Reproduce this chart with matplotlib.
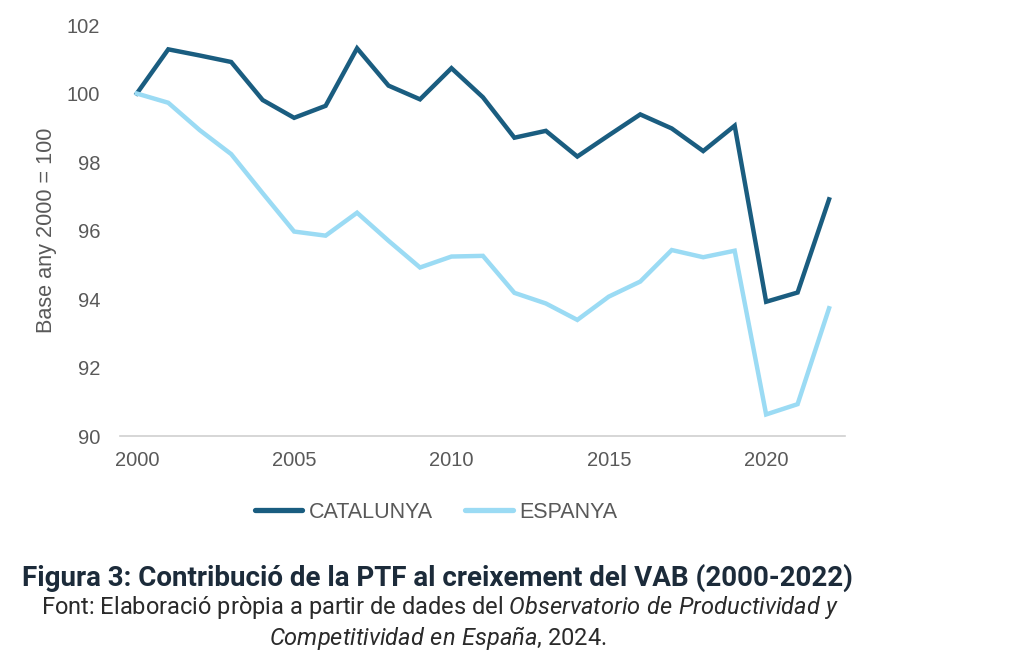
import numpy as np
import matplotlib
matplotlib.use('Agg')
import matplotlib.pyplot as plt
from matplotlib.lines import Line2D

plt.rcParams['font.family'] = ['Liberation Sans', 'DejaVu Sans']
plt.rcParams['mathtext.fontset'] = 'custom'
plt.rcParams['mathtext.rm'] = 'Roboto'
plt.rcParams['mathtext.it'] = 'Roboto:italic'

anys = list(range(2000, 2023))
catalunya = [100.0, 101.29, 101.11, 100.92, 99.81, 99.29, 99.64, 101.32, 100.23, 99.83,
             100.74, 99.89, 98.71, 98.91, 98.16, 98.78, 99.39, 98.98, 98.32, 99.06,
             93.92, 94.19, 96.91]
espanya = [100.0, 99.73, 98.93, 98.23, 97.09, 95.97, 95.85, 96.52, 95.70, 94.92,
           95.24, 95.26, 94.18, 93.87, 93.39, 94.07, 94.51, 95.43, 95.22, 95.41,
           90.63, 90.93, 93.73]
xticks = [2000, 2005, 2010, 2015, 2020]
yticks = [90, 92, 94, 96, 98, 100, 102]

col_cat = '#1a5d80'
col_esp = '#9bdbf4'
gris = '#595959'

fig = plt.figure(figsize=(10.24, 6.67), dpi=100)
fig.patch.set_facecolor('white')
ax = fig.add_axes([0.117, 0.3463, 0.708, 0.6162])

ax.plot(anys, catalunya, color=col_cat, linewidth=3.2, solid_joinstyle='miter', label='CATALUNYA')
ax.plot(anys, espanya, color=col_esp, linewidth=3.2, solid_joinstyle='miter', label='ESPANYA')

ax.set_xlim(1999.46, 2022.5)
ax.set_ylim(90, 102)
ax.set_xticks(xticks)
ax.set_yticks(yticks)
ax.tick_params(axis='both', length=0, labelsize=14.5, labelcolor=gris)
ax.tick_params(axis='x', pad=11)
ax.tick_params(axis='y', pad=14)
for s in ['top', 'right', 'left']:
    ax.spines[s].set_visible(False)
ax.spines['bottom'].set_color('#d0d0d0')
ax.spines['bottom'].set_linewidth(1.2)
ax.set_ylabel('Base any 2000 = 100', fontsize=15.6, color=gris)
ax.yaxis.set_label_coords(-0.086, 0.5)

handles = [Line2D([], [], color=col_cat, linewidth=3.8, solid_capstyle='round'),
           Line2D([], [], color=col_esp, linewidth=3.8, solid_capstyle='round')]
fig.legend(handles, ['CATALUNYA', 'ESPANYA'], loc='center', bbox_to_anchor=(0.426, 0.232),
           ncol=2, frameon=False, fontsize=15.5, handlelength=2.2, handletextpad=0.3,
           columnspacing=1.5, labelcolor=gris)

fig.text(0.427, 0.133, 'Figura 3: Contribució de la PTF al creixement del VAB (2000-2022)',
         ha='center', va='center', fontsize=20, fontweight='bold', color='#1c2b3a',
         family=['Roboto', 'DejaVu Sans'])
fig.text(0.43, 0.089, 'Font: Elaboració pròpia a partir de dades del '
         r'$\it{Observatorio\ de\ Productividad\ y}$',
         ha='center', va='center', fontsize=17, color='#2a2a2a',
         family=['Roboto', 'DejaVu Sans'])
fig.text(0.428, 0.044, r'$\it{Competitividad\ en\ España}$, 2024.',
         ha='center', va='center', fontsize=17, color='#2a2a2a',
         family=['Roboto', 'DejaVu Sans'])

plt.savefig('out.png', dpi=100, facecolor='white')
